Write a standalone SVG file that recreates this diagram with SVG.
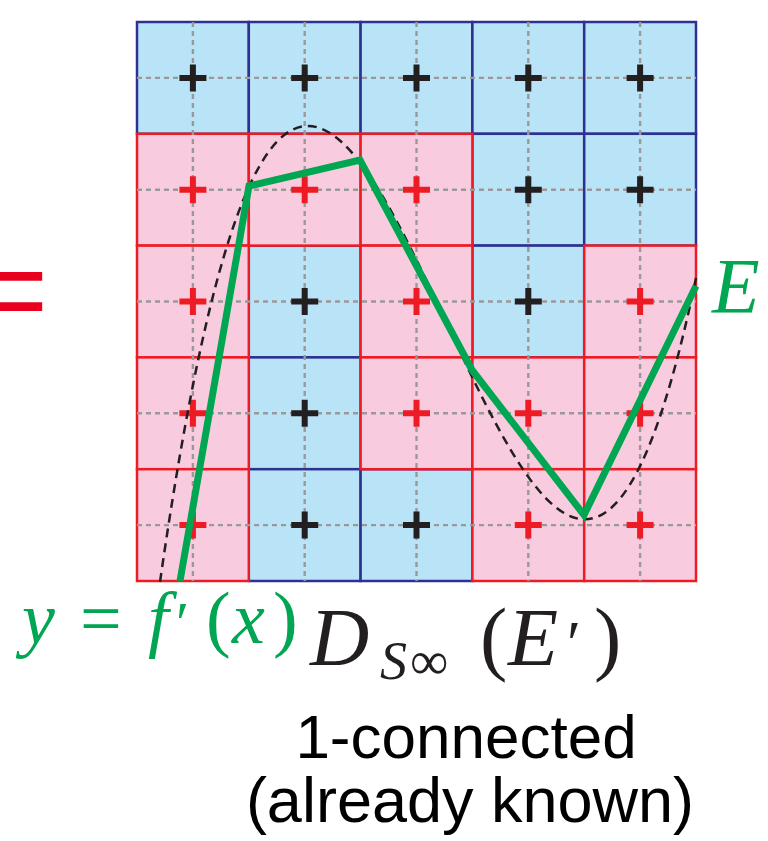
<svg xmlns="http://www.w3.org/2000/svg" width="768" height="841" viewBox="0 0 768 841">
<style>
.blue{fill:#b9e3f7;stroke:#2e3192;stroke-width:2.5}
.pink{fill:#f9cbdf;stroke:#ed1c24;stroke-width:2.5}
.grid{stroke:#999;stroke-width:2.4;stroke-dasharray:5 4;fill:none}
.pk{stroke:#231f20;stroke-width:6;fill:none}
.pr{stroke:#ed1c24;stroke-width:6;fill:none}
.curve{stroke:#231f20;stroke-width:2.5;stroke-dasharray:9 6;fill:none}
.poly{stroke:#00a651;stroke-width:7;fill:none;stroke-linejoin:miter}
.math{font-family:"Liberation Serif","DejaVu Serif",serif}
.sans{font-family:"Liberation Sans",Arial,sans-serif;fill:#000}
</style>
<defs>
<path id="plus" d="M-13.5,0H13.5M0,-13.5V13.5"/>
</defs>
<rect width="768" height="841" fill="#fff"/>
<g id="cells">
<g id="c00"><rect class="blue" x="137" y="22" width="111.8" height="111.8"/></g>
<g id="c01"><rect class="blue" x="248.8" y="22" width="111.8" height="111.8"/></g>
<g id="c02"><rect class="blue" x="360.6" y="22" width="111.8" height="111.8"/></g>
<g id="c03"><rect class="blue" x="472.4" y="22" width="111.8" height="111.8"/></g>
<g id="c04"><rect class="blue" x="584.2" y="22" width="111.8" height="111.8"/></g>
<g id="c13"><rect class="blue" x="472.4" y="133.8" width="111.8" height="111.8"/></g>
<g id="c14"><rect class="blue" x="584.2" y="133.8" width="111.8" height="111.8"/></g>
<g id="c21"><rect class="blue" x="248.8" y="245.6" width="111.8" height="111.8"/></g>
<g id="c23"><rect class="blue" x="472.4" y="245.6" width="111.8" height="111.8"/></g>
<g id="c31"><rect class="blue" x="248.8" y="357.4" width="111.8" height="111.8"/></g>
<g id="c41"><rect class="blue" x="248.8" y="469.2" width="111.8" height="111.8"/></g>
<g id="c42"><rect class="blue" x="360.6" y="469.2" width="111.8" height="111.8"/></g>
<g id="c10"><rect class="pink" x="137" y="133.8" width="111.8" height="111.8"/></g>
<g id="c11"><rect class="pink" x="248.8" y="133.8" width="111.8" height="111.8"/></g>
<g id="c12"><rect class="pink" x="360.6" y="133.8" width="111.8" height="111.8"/></g>
<g id="c20"><rect class="pink" x="137" y="245.6" width="111.8" height="111.8"/></g>
<g id="c22"><rect class="pink" x="360.6" y="245.6" width="111.8" height="111.8"/></g>
<g id="c24"><rect class="pink" x="584.2" y="245.6" width="111.8" height="111.8"/></g>
<g id="c30"><rect class="pink" x="137" y="357.4" width="111.8" height="111.8"/></g>
<g id="c32"><rect class="pink" x="360.6" y="357.4" width="111.8" height="111.8"/></g>
<g id="c33"><rect class="pink" x="472.4" y="357.4" width="111.8" height="111.8"/></g>
<g id="c34"><rect class="pink" x="584.2" y="357.4" width="111.8" height="111.8"/></g>
<g id="c40"><rect class="pink" x="137" y="469.2" width="111.8" height="111.8"/></g>
<g id="c43"><rect class="pink" x="472.4" y="469.2" width="111.8" height="111.8"/></g>
<g id="c44"><rect class="pink" x="584.2" y="469.2" width="111.8" height="111.8"/></g>
</g>
<g id="midlines" class="grid">
<path d="M137,77.9H696M137,189.7H696M137,301.5H696M137,413.3H696M137,525.1H696"/>
<path d="M192.9,22V581M304.7,22V581M416.5,22V581M528.3,22V581M640.1,22V581"/>
</g>
<g id="plus-black" class="pk">
<use href="#plus" x="192.9" y="77.9"/><use href="#plus" x="304.7" y="77.9"/><use href="#plus" x="416.5" y="77.9"/><use href="#plus" x="528.3" y="77.9"/><use href="#plus" x="640.1" y="77.9"/>
<use href="#plus" x="528.3" y="189.7"/><use href="#plus" x="640.1" y="189.7"/>
<use href="#plus" x="304.7" y="301.5"/><use href="#plus" x="528.3" y="301.5"/>
<use href="#plus" x="304.7" y="413.3"/>
<use href="#plus" x="304.7" y="525.1"/><use href="#plus" x="416.5" y="525.1"/>
</g>
<g id="plus-red" class="pr">
<use href="#plus" x="192.9" y="189.7"/><use href="#plus" x="304.7" y="189.7"/><use href="#plus" x="416.5" y="189.7"/>
<use href="#plus" x="192.9" y="301.5"/><use href="#plus" x="416.5" y="301.5"/><use href="#plus" x="640.1" y="301.5"/>
<use href="#plus" x="192.9" y="413.3"/><use href="#plus" x="416.5" y="413.3"/><use href="#plus" x="528.3" y="413.3"/><use href="#plus" x="640.1" y="413.3"/>
<use href="#plus" x="192.9" y="525.1"/><use href="#plus" x="528.3" y="525.1"/><use href="#plus" x="640.1" y="525.1"/>
</g>
<g id="connectors">
<path id="fprime" class="curve" d="M160,582 C338.67,-665 517.33,1135.2 696,278"/>
<polyline id="E" class="poly" points="180,581 249,186 360,160 472,370 584,515 696,286"/>
</g>
<g id="labels">
<text class="sans" x="-22" y="331" font-size="120" style="fill:#e8001c">=</text>
<text class="math" x="712" y="312" font-size="78" font-style="italic" fill="#00a651">E</text>
<text class="math" y="643" font-size="74" fill="#00a651"><tspan x="22" font-style="italic">y</tspan><tspan x="80">=</tspan><tspan x="148" font-style="italic">f</tspan><tspan x="176" font-size="60">′</tspan><tspan x="206">(</tspan><tspan x="232" font-style="italic">x</tspan><tspan x="273">)</tspan></text>
<text class="math" y="665" font-size="82" fill="#231f20"><tspan x="310" font-style="italic">D</tspan><tspan x="480">(</tspan><tspan x="508" font-style="italic">E</tspan><tspan x="567" font-size="64">′</tspan><tspan x="594">)</tspan></text>
<text class="math" y="679" font-size="54" fill="#231f20"><tspan x="380" font-style="italic">S</tspan><tspan x="410">∞</tspan></text>
<text class="sans" x="466" y="758" font-size="62" text-anchor="middle">1-connected</text>
<text class="sans" x="470" y="822" font-size="63" text-anchor="middle">(already known)</text>
</g>
</svg>
